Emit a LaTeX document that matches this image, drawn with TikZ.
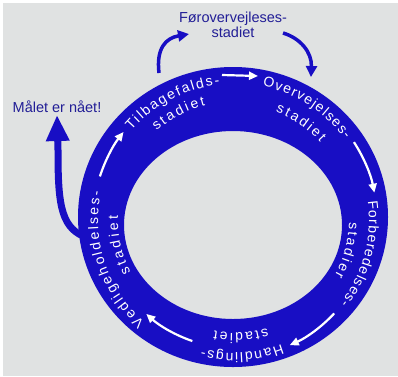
\documentclass[tikz,border=0pt]{standalone}
\usepackage{fontspec}
\setmainfont{Liberation Sans}
\usepackage{xcolor}
\usetikzlibrary{arrows.meta,decorations.text}
\definecolor{paper}{RGB}{224,226,226}
\definecolor{ringblue}{RGB}{24,14,196}
\definecolor{labelblue}{RGB}{34,30,150}
\newcommand{\ringfont}{\fontsize{14}{16}\selectfont}
\tikzset{
  ringtext/.style={decorate, decoration={text along path, text align=fit to path,
      text color=white, text={|\ringfont|#1}}},
  whitearrow/.style={white, line width=2.2pt, -{Triangle[length=9pt,width=8pt]}},
  bluearrow/.style={ringblue, line width=3.5pt, -{Triangle[length=11pt,width=11pt]}},
  bigarrow/.style={ringblue, line width=7pt, -{Triangle[length=26pt,width=22pt]}},
  outlabel/.style={labelblue, font=\fontsize{14.5}{15}\selectfont, align=center}
}
\begin{document}
\begin{tikzpicture}[x=1pt,y=1pt]
        \tikzstyle{every node}+=[inner sep=0pt]
        \useasboundingbox (0,0) rectangle (398,-376);
        \fill [paper] (3,-3) rectangle (398,-376);
        % ring
        \coordinate (O) at (234,-220);
        \fill [ringblue, even odd rule] (233,-217) ellipse [x radius=155, y radius=150]
              (233,-225) ellipse [x radius=109, y radius=94];
        % labels on the ring
        \path [ringtext={Tilbagefalds-}] ([shift={(139:136)}]O) arc [start angle=139, end angle=96, radius=136];
        \path [ringtext={stadiet}] ([shift={(131:118)}]O) arc [start angle=131, end angle=104, radius=118];
        \path [ringtext={Overvejelses-}] ([shift={(78:137)}]O) arc [start angle=78, end angle=36, radius=137];
        \path [ringtext={stadiet}] ([shift={(69:116)}]O) arc [start angle=69, end angle=42, radius=116];
        \path [ringtext={Forberedelses-}] ([shift={(8:135)}]O) arc [start angle=8, end angle=-38, radius=135];
        \path [ringtext={stadier}] ([shift={(-1:115)}]O) arc [start angle=-1, end angle=-29, radius=115];
        \path [ringtext={Handlings-}] ([shift={(-69:133)}]O) arc [start angle=-69, end angle=-104, radius=133];
        \path [ringtext={stadiet}] ([shift={(-73:113)}]O) arc [start angle=-73, end angle=-100, radius=113];
        \path [ringtext={Vedligeholdelses-}] ([shift={(-131:136)}]O) arc [start angle=-131, end angle=-192, radius=136];
        \path [ringtext={stadiet}] ([shift={(-153:116)}]O) arc [start angle=-153, end angle=-182, radius=116];
        % white arrows round the ring
        \coordinate (w1) at (222,-75);
        \coordinate (w2) at (258,-76);
        \draw [whitearrow] (w1) -- (w2);
        \draw [whitearrow] ([shift={(33:143)}]O) arc [start angle=33, end angle=11, radius=143];
        \draw [whitearrow] ([shift={(-43:137)}]O) arc [start angle=-43, end angle=-66, radius=137];
        \draw [whitearrow] ([shift={(-109:128)}]O) arc [start angle=-109, end angle=-132, radius=134];
        \draw [whitearrow] ([shift={(162:141)}]O) arc [start angle=162, end angle=142, radius=145];
        % texts outside
        \node [outlabel] (fore) at (233,-25) {Førovervejleses-\\stadiet};
        \node [outlabel] (goal) at (57,-107) {Målet er nået!};
        % blue arrows
        \coordinate (r1) at (159,-73);
        \coordinate (f1) at (189,-34);
        \coordinate (f2) at (283,-33);
        \coordinate (r2) at (311,-77);
        \coordinate (r3) at (83,-236);
        \draw [bluearrow] (r1) .. controls (156,-48) and (166,-38) .. (f1);
        \draw [bluearrow] (f2) .. controls (300,-38) and (312,-52) .. (r2);
        \draw [bigarrow] (r3) .. controls (60,-226) and (58,-200) .. (58,-150) -- (goal.south |- 0,-115);
\end{tikzpicture}
\end{document}
